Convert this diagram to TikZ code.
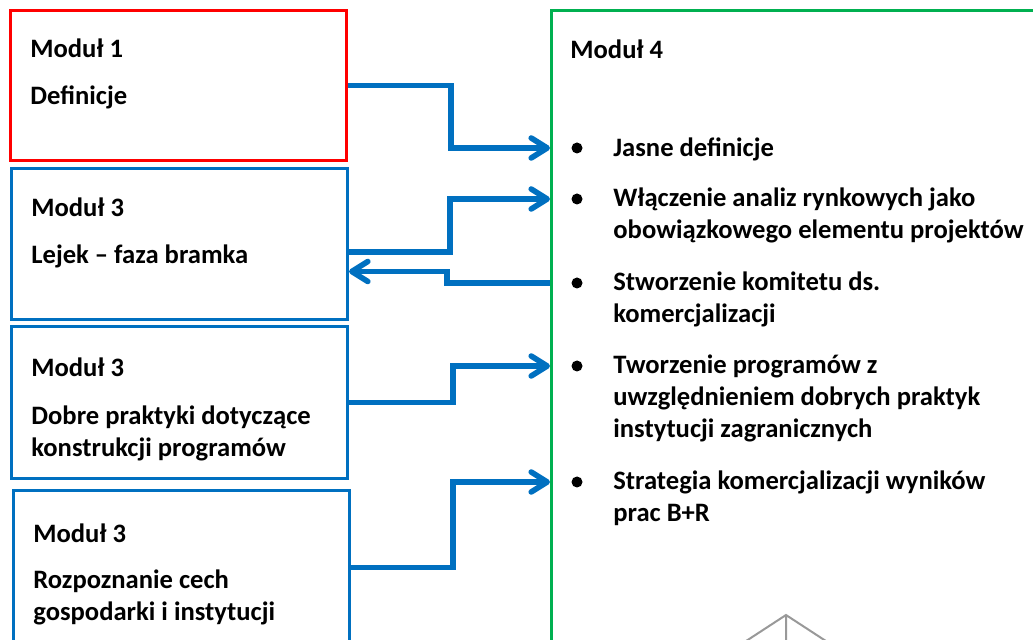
\documentclass[tikz,border=0pt]{standalone}
\usepackage{fontspec}
\setmainfont{Carlito}
\usetikzlibrary{positioning,arrows.meta}
\definecolor{modred}{RGB}{255,0,0}
\definecolor{modblue}{RGB}{0,112,192}
\definecolor{modgreen}{RGB}{0,176,80}
\tikzset{module/.style={draw,line width=1.5pt,minimum width=168pt,anchor=north west,inner sep=0pt},
  modtext/.style={anchor=base west,inner sep=0pt,align=left,font=\fontsize{13.3}{16}\selectfont\bfseries},
  dot/.style={circle,fill=black,minimum size=5.5pt,inner sep=0pt},
  link/.style={draw=modblue,line width=2.8pt,-{Straight Barb[length=8pt,width=10pt,round]}}}

\begin{document}
\begin{tikzpicture}[x=0.5pt,y=-0.5pt]
  \useasboundingbox (0,0) rectangle (1033,640);
  \clip (0,0) rectangle (1033,640);
  % left column
  \node[module,draw=modred,minimum height=75pt] (m1) at (9,9) {};
  \node[module,draw=modblue,minimum height=75.5pt] (m3a) at (10,167) {};
  \node[module,draw=modblue,minimum height=76pt] (m3b) at (10,325) {};
  \node[module,draw=modblue,minimum height=77pt] (m3c) at (12,489) {};
  \node[modtext] (t1) at (30,105) {Moduł 1\\[7.5pt]Definicje};
  \node[modtext] (t2) at (31,264) {Moduł 3\\[7.5pt]Lejek – faza bramka};
  \node[modtext] (t3) at (31,457) {Moduł 3\\[8pt]Dobre praktyki dotyczące\\konstrukcji programów};
  \node[modtext] (t4) at (33,620) {Moduł 3\\[7pt]Rozpoznanie cech\\gospodarki i instytucji};
  % right box
  \node[module,draw=modgreen,minimum width=247.5pt,minimum height=320.5pt] (m4) at (550,9) {};
  \node[modtext] (t5) at (570,59) {Moduł 4};
  \node[dot] (d1) at (577,148) {};
  \node[dot] (d2) at (577,199) {};
  \node[dot] (d3) at (577,283) {};
  \node[dot] (d4) at (577,366) {};
  \node[dot] (d5) at (577,482) {};
  \node[modtext] (i1) at (613,157) {Jasne definicje};
  \node[modtext] (i2) at (613,239) {Włączenie analiz rynkowych jako\\obowiązkowego elementu projektów};
  \node[modtext] (i3) at (613,323) {Stworzenie komitetu ds.\\komercjalizacji};
  \node[modtext] (i4) at (613,438) {Tworzenie programów z\\uwzględnieniem dobrych praktyk\\instytucji zagranicznych};
  \node[modtext] (i5) at (613,522) {Strategia komercjalizacji wyników\\prac B+R};
  % connectors
  \draw[link] (m1.east) -- ++(103,0) |- (m4.west |- d1);
  \draw[link] ([yshift=-4pt]m3a.east) -- ++(101,0) |- (m4.west |- d2);
  \draw[link] (m4.west |- d3) -- ++(-103,0) |- ([yshift=-13.75pt]m3a.east);
  \draw[link] (m3b.east) -- ++(104,0) |- (m4.west |- d4);
  \draw[link] (m3c.east) -- ++(102,0) |- (m4.west |- d5);
  % grey tip at the bottom
  \draw[gray!80,line width=1pt] (740,645) -- (786,615) -- (832,645) (786,615) -- (786,645);
\end{tikzpicture}
\end{document}
